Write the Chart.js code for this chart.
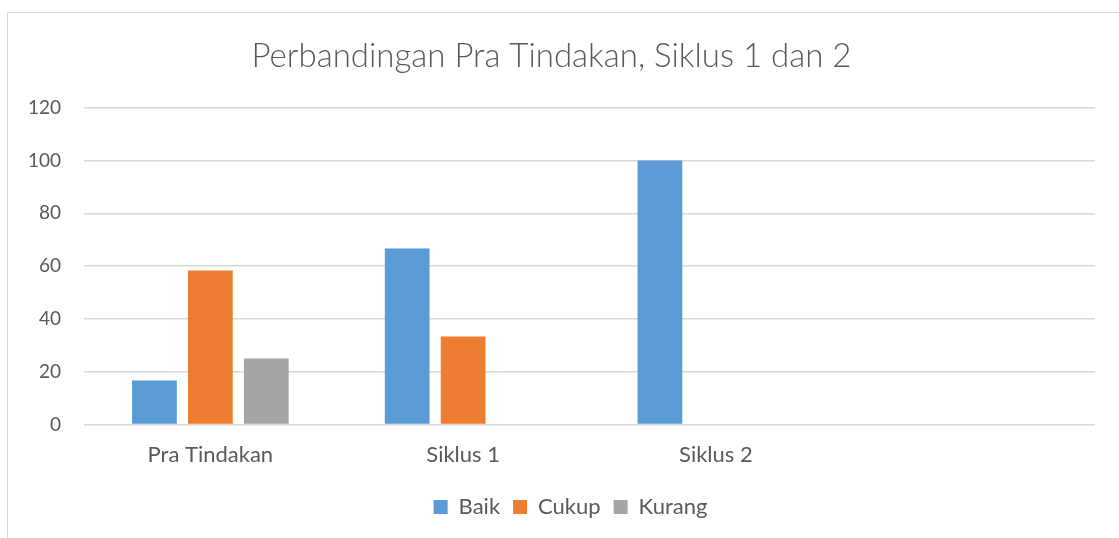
<!DOCTYPE html>
<html>
<head>
<meta charset="utf-8">
<script src="https://cdn.jsdelivr.net/npm/chart.js@4.4.1/dist/chart.umd.min.js"></script>
<style>
  html, body { margin: 0; padding: 0; background: #fff; }
  #wrap { position: relative; width: 1119px; height: 538px; }
  #frame { position: absolute; left: 7px; top: 12px; width: 1112px; height: 526px;
           border-left: 1.5px solid #d9d9d9; border-top: 1.5px solid #d9d9d9; box-sizing: border-box; pointer-events: none; }
  canvas { position: absolute; left: 0; top: 0; }
</style>
</head>
<body>
<div id="wrap">
  <canvas id="chart" width="1119" height="538"></canvas>
  <div id="frame"></div>
</div>
<script>
const categories = ['Pra Tindakan', 'Siklus 1', 'Siklus 2', ''];
const baik = [16.67, 66.67, 100, null];
const cukup = [58.33, 33.33, 0, null];
const kurang = [25, 0, 0, null];
const yTicks = [0, 20, 40, 60, 80, 100, 120];

const textColor = '#595959';
const gridColor = '#d9d9d9';
const fontFamily = 'Lato, "Open Sans", sans-serif';

// excel centres the legend under the plot, not the whole canvas
const legendShift = {
  id: 'legendShift',
  afterLayout(chart) {
    chart.legend.left += 19;
    chart.legend.right += 19;
  },
};

new Chart(document.getElementById('chart'), {
  type: 'bar',
  data: {
    labels: categories,
    datasets: [
      { label: 'Baik', data: baik, backgroundColor: '#5B9BD5' },
      { label: 'Cukup', data: cukup, backgroundColor: '#ED7D31' },
      { label: 'Kurang', data: kurang, backgroundColor: '#A5A5A5' },
    ],
  },
  options: {
    responsive: false,
    animation: false,
    devicePixelRatio: 1,
    categoryPercentage: 0.664,
    barPercentage: 0.8,
    layout: { padding: { left: 8, right: 24, top: 13, bottom: 10 } },
    scales: {
      x: {
        grid: { display: false },
        border: { display: false },
        afterFit: axis => { axis.height += 6; },
        ticks: { color: textColor, font: { family: fontFamily, size: 22 }, padding: 9 },
      },
      y: {
        min: 0,
        max: 120,
        afterBuildTicks: axis => { axis.ticks = yTicks.map(v => ({ value: v })); },
        afterFit: axis => { axis.width = 76; },
        grid: { color: gridColor, lineWidth: 1.5, drawTicks: false },
        border: { display: false },
        ticks: { color: textColor, font: { family: fontFamily, size: 19 }, padding: 23 },
      },
    },
    plugins: {
      title: {
        display: true,
        text: 'Perbandingan Pra Tindakan, Siklus 1 dan 2',
        color: textColor,
        font: { family: fontFamily, size: 33, weight: '300' },
        padding: { top: 24, bottom: 31 },
      },
      legend: {
        position: 'bottom',
        labels: {
          color: textColor,
          font: { family: fontFamily, size: 22 },
          boxWidth: 14,
          boxHeight: 14,
          padding: 13,
        },
      },
      tooltip: { enabled: false },
    },
  },
  plugins: [legendShift],
});
</script>
</body>
</html>
